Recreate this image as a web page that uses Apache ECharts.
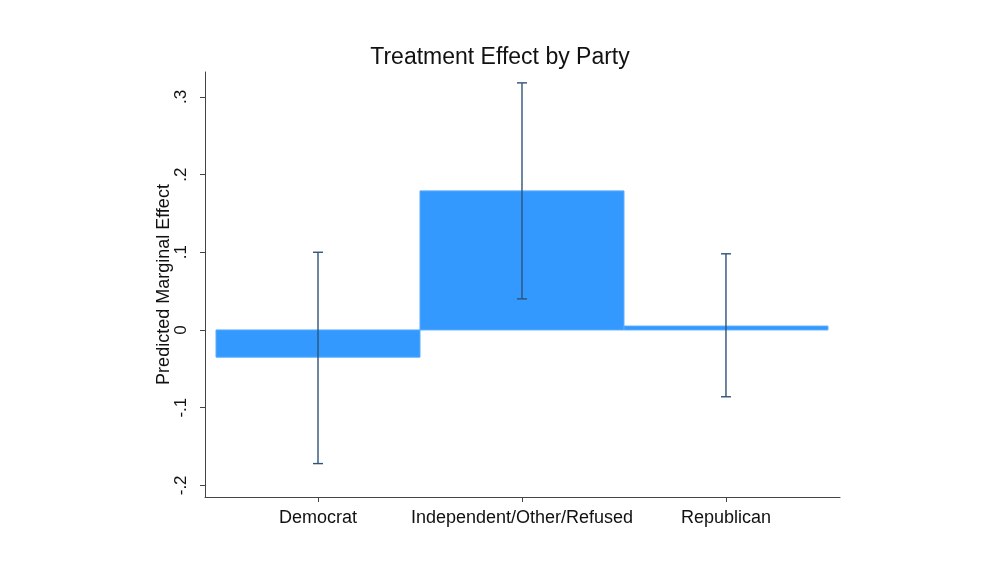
<!DOCTYPE html>
<html>
<head>
<meta charset="utf-8">
<script src="https://cdn.jsdelivr.net/npm/echarts@6/dist/echarts.min.js"></script>
<style>html,body{margin:0;padding:0;background:#fff;}#c{width:1000px;height:563px;}</style>
</head>
<body>
<div id="c"></div>
<script>
const categories = ['Democrat', 'Independent/Other/Refused', 'Republican'];
const effects = [-0.035, 0.179, 0.005];
const ciLower = [-0.172, 0.040, -0.086];
const ciUpper = [0.100, 0.318, 0.098];
const yTicks = [-0.2, -0.1, 0, 0.1, 0.2, 0.3];
const yTickLabels = ['-.2', '-.1', '0', '.1', '.2', '.3'];
const xPositions = [1, 2, 3];

const font = 'Liberation Sans, Arial, Helvetica, sans-serif';
const chart = echarts.init(document.getElementById('c'));

const barData = xPositions.map((x, i) => [x, effects[i]]);
const errData = xPositions.map((x, i) => [x, ciLower[i], ciUpper[i]]);

chart.setOption({
  animation: false,
  backgroundColor: '#fff',
  title: {
    text: 'Treatment Effect by Party',
    left: 'center',
    top: 41,
    textStyle: { fontFamily: font, fontSize: 23, fontWeight: 'normal', color: '#111' }
  },
  grid: { left: 205, right: 160, top: 72, bottom: 66 },
  xAxis: {
    type: 'value',
    min: 0.446,
    max: 3.559,
    splitLine: { show: false },
    axisLine: { show: true, onZero: false, lineStyle: { color: '#444', width: 1 } },
    axisTick: { show: true, customValues: xPositions, length: 5, lineStyle: { color: '#444' } },
    axisLabel: {
      customValues: xPositions,
      formatter: v => categories[Math.round(v) - 1] || '',
      fontFamily: font, fontSize: 18, color: '#111', margin: 12
    }
  },
  yAxis: {
    type: 'value',
    min: -0.215,
    max: 0.332,
    name: 'Predicted Marginal Effect',
    nameLocation: 'middle',
    nameGap: 32,
    nameMoveOverlap: false,
    nameTextStyle: { fontFamily: font, fontSize: 18, color: '#111' },
    splitLine: { show: false },
    axisLine: { show: true, lineStyle: { color: '#444', width: 1 } },
    axisTick: { show: true, customValues: yTicks, length: 5, lineStyle: { color: '#444' } },
    axisLabel: {
      customValues: yTicks,
      rotate: 90,
      formatter: v => { const i = yTicks.findIndex(t => Math.abs(t - v) < 1e-6); return i >= 0 ? yTickLabels[i] : ''; },
      fontFamily: font, fontSize: 17, color: '#111', margin: 15
    }
  },
  series: [
    {
      type: 'custom',
      data: barData,
      encode: { x: 0, y: 1 },
      renderItem: (params, api) => {
        const x = api.value(0), v = api.value(1);
        const p0 = api.coord([x - 0.5, Math.max(v, 0)]);
        const p1 = api.coord([x + 0.5, Math.min(v, 0)]);
        return {
          type: 'rect',
          shape: { x: p0[0], y: p0[1], width: p1[0] - p0[0], height: p1[1] - p0[1] },
          style: { fill: '#3399ff', stroke: '#56acff', lineWidth: 1 }
        };
      },
      z: 2
    },
    {
      type: 'custom',
      data: errData,
      encode: { x: 0, y: [1, 2] },
      renderItem: (params, api) => {
        const x = api.value(0);
        const lo = api.coord([x, api.value(1)]);
        const hi = api.coord([x, api.value(2)]);
        const cap = 5;
        const st = { stroke: '#2e5378', lineWidth: 1.4 };
        return {
          type: 'group',
          children: [
            { type: 'line', shape: { x1: lo[0], y1: lo[1], x2: hi[0], y2: hi[1] }, style: st },
            { type: 'line', shape: { x1: lo[0] - cap, y1: lo[1], x2: lo[0] + cap, y2: lo[1] }, style: st },
            { type: 'line', shape: { x1: hi[0] - cap, y1: hi[1], x2: hi[0] + cap, y2: hi[1] }, style: st }
          ]
        };
      },
      z: 3
    }
  ]
});
</script>
</body>
</html>
